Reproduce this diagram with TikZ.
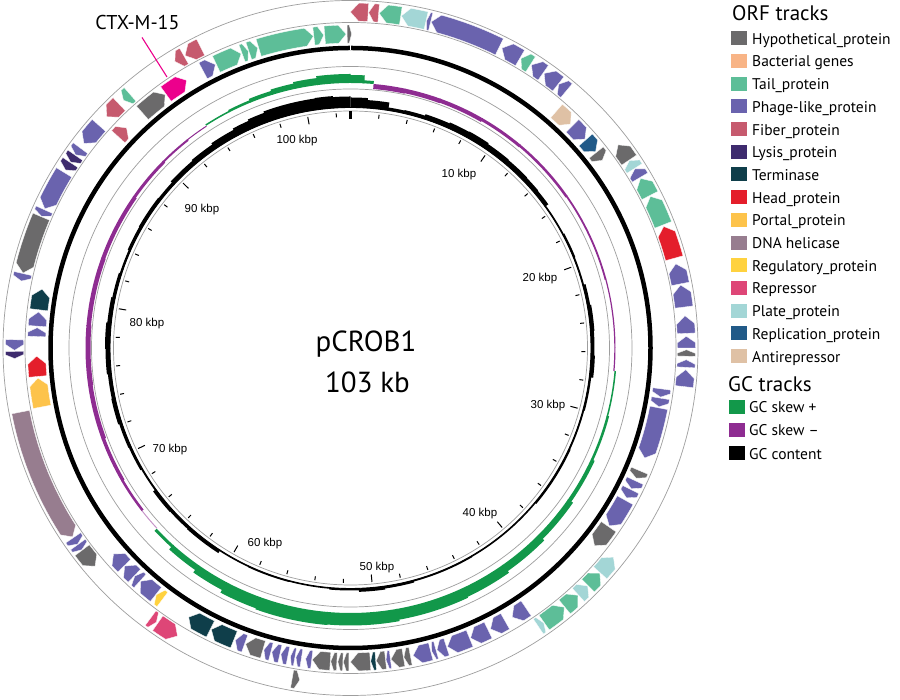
\documentclass[tikz,border=0pt]{standalone}
\usepackage{fontspec}
\setmainfont{PT Sans}
\newfontfamily\tickfont{Liberation Sans}
\definecolor{hypo}{HTML}{6B6A6B}
\definecolor{bact}{HTML}{F8B486}
\definecolor{tail}{HTML}{5DBE98}
\definecolor{phage}{HTML}{6A63AE}
\definecolor{fiber}{HTML}{C65A6E}
\definecolor{lysis}{HTML}{3E2B6E}
\definecolor{term}{HTML}{0F3E4A}
\definecolor{head}{HTML}{E41E2B}
\definecolor{portal}{HTML}{FDC34B}
\definecolor{helic}{HTML}{977D8F}
\definecolor{regul}{HTML}{FFD23F}
\definecolor{repr}{HTML}{DE4677}
\definecolor{plate}{HTML}{A3D6D6}
\definecolor{repl}{HTML}{215A88}
\definecolor{anti}{HTML}{DFC1A5}
\definecolor{skp}{HTML}{12984A}
\definecolor{skm}{HTML}{8E2C91}
\definecolor{ctx}{HTML}{EC008C}
% ring A: counter-clockwise arrows, r 327-345
\newcommand{\geneA}[3]{%
  \pgfmathsetmacro{\gnA}{90-#1}%
  \pgfmathsetmacro{\gnB}{90-#2}%
  \pgfmathsetmacro{\gnT}{90-#1-min(1.4,0.55*(#2-#1))}%
  \fill[genebox, fill=#3] (\gnB:327pt) arc[start angle=\gnB, end angle=\gnT, radius=327pt] -- (\gnA:336pt) -- (\gnT:345pt) arc[start angle=\gnT, end angle=\gnB, radius=345pt] -- cycle;}
% ring B: clockwise arrows, r 305-323
\newcommand{\geneB}[3]{%
  \pgfmathsetmacro{\gnA}{90-#1}%
  \pgfmathsetmacro{\gnB}{90-#2}%
  \pgfmathsetmacro{\gnT}{90-#2+min(1.4,0.55*(#2-#1))}%
  \fill[genebox, fill=#3] (\gnA:305pt) arc[start angle=\gnA, end angle=\gnT, radius=305pt] -- (\gnB:314pt) -- (\gnT:323pt) arc[start angle=\gnT, end angle=\gnA, radius=323pt] -- cycle;}
% bar between radius #3 and #4 from angle #1 to #2
\newcommand{\bandseg}[5]{%
  \pgfmathsetmacro{\gnA}{90-#1}%
  \pgfmathsetmacro{\gnB}{90-#2}%
  \fill[#5] (\gnA:#3pt) arc[start angle=\gnA, end angle=\gnB, radius=#3pt] -- (\gnB:#4pt) arc[start angle=\gnB, end angle=\gnA, radius=#4pt] -- cycle;}
\begin{document}
\begin{tikzpicture}[x=1pt,y=1pt,
  ringline/.style={draw=black!38, line width=0.7pt},
  genebox/.style={draw=white, line width=0.3pt},
  ticklbl/.style={font=\tickfont\fontsize{11.5}{12}\selectfont, inner sep=0pt},
  legtxt/.style={anchor=base west, inner sep=0pt, font=\fontsize{15.5}{16}\selectfont},
  legsq/.style={minimum width=16pt, minimum height=14pt, inner sep=0pt, anchor=west},
  legtitle/.style={anchor=base west, inner sep=0pt, font=\fontsize{21}{22}\selectfont},
  ctxline/.style={draw=ctx, line width=1.1pt}
]
\useasboundingbox (0,0) rectangle (900,700);
\fill[white] (0,0) rectangle (900,700);

\begin{scope}[shift={(350.5,352)}]
  % ring outlines
  \draw[ringline] (0,0) circle[radius=347.5pt];
  \draw[ringline] (0,0) circle[radius=325.5pt];
  \draw[ringline] (0,0) circle[radius=281.5pt];
  \draw[ringline] (0,0) circle[radius=259pt];
  \draw[ringline] (0,0) circle[radius=237pt];
  % backbone
  \draw[line width=4.5pt] (0,0) circle[radius=300pt];
  \draw[white, line width=0.8pt] (90:297.5pt) -- (90:302.5pt);

  % ring A genes
  \foreach \a/\b/\c in {0/3/fiber, 3.1/4.8/fiber, 4.9/8.6/tail, 8.7/13/plate, 13.1/13.8/phage, 13.9/26.3/phage, 26.8/30.3/phage, 30.5/32.4/tail, 32.6/35/phage, 35.2/38.2/phage, 38.3/40/phage, 52.8/56/hypo, 56.1/57.7/plate, 57.8/59.5/phage, 59.7/63/tail, 63.2/68.5/tail, 68.8/74.5/head, 75.5/79/phage, 79.2/83/phage, 84.5/87.5/phage, 88/90/phage, 90.3/91.4/hypo, 92/93.3/phage, 93.7/96.6/phage, 128.5/132/plate, 132.1/135/tail, 135.1/137.3/plate, 137.4/140.4/tail, 140.5/144.8/tail, 144.9/146/plate, 188.7/190/hypo, 211/215/repr, 215.3/216.5/repr, 229.5/233/hypo, 233.1/234.2/phage, 234.3/235.6/phage, 235.8/259/helic, 268.2/269.4/lysis, 269.6/271.4/phage, 281.5/282.8/phage, 282.9/293/hypo, 293.1/294.3/phage, 294.5/301.5/phage, 302/303.5/lysis, 303.6/305/lysis, 305.1/306.5/phage, 307.5/311.5/phage, 313.5/316.5/fiber, 317.5/319/tail, 328.5/330.3/fiber, 330.5/333.5/fiber}
    {\geneA{\a}{\b}{\c}}

  % ring B genes
  \foreach \a/\b/\c in {41/44.5/anti, 45/48.3/phage, 48.5/51.3/repl, 51.5/53.3/hypo, 97.5/99/phage, 99.2/100.8/phage, 101/110.5/phage, 113/114.5/hypo, 115/116.6/phage, 116.8/118.5/phage, 119/124.5/phage, 124.7/129/hypo, 146/149/phage, 150.5/153.5/phage, 154/157.5/phage, 157.7/162/phage, 162.2/164/phage, 164.2/165/phage, 165.2/168.5/phage, 169/170.2/hypo, 170.3/172.6/hypo, 172.7/173.5/phage, 173.6/175.3/hypo, 175.4/176.3/term, 176.4/180/hypo, 180.3/181.3/hypo, 181.4/182.3/hypo, 182.5/183.6/hypo, 183.7/187/hypo, 187.1/188.2/phage, 189/190/phage, 190.2/191/phage, 191.5/192.8/phage, 193/194.5/phage, 194.7/196/phage, 196.2/199.5/hypo, 199.7/201.5/phage, 201.8/206.3/term, 206.5/211/term, 216.8/218.2/regul, 218.3/222/phage, 222.1/223.4/phage, 223.5/226/phage, 226.1/229/phage, 259.2/264.5/portal, 264.8/268.5/head, 272.1/273.7/phage, 274/276.6/phage, 277/280.8/term, 312.3/314.5/fiber, 318.5/323.8/hypo, 324/328.5/ctx, 332/334.5/phage, 334.7/339.6/tail, 339.8/341/tail, 341.1/342.8/tail, 343/353.2/tail, 353.3/355.1/tail, 355.3/359.2/tail, 359.4/360.2/hypo}
    {\geneB{\a}{\b}{\c}}

  % GC skew (baseline 265)
  \foreach \a/\b/\h in {-33/-27/1.5, -27.2/-22/2.5, -22.2/-17/4, -17.2/-12/5.5, -12.2/-7/7, -7.2/0/9, -0.2/3/8, 2.8/5/3, 95/105/1.5, 104.8/115/2.5, 114.8/125/4, 124.8/135/6, 134.8/145/8, 144.8/155/10, 154.8/170/11, 169.8/185/12.5, 184.8/200/13, 199.8/208/12, 207.8/215/9, 214.8/222/6, 221.8/227/3}
    {\pgfmathsetmacro{\rr}{265+\h}\bandseg{\a}{\b}{265}{\rr}{skp}}
  \foreach \a/\b/\h in {5/12/5, 11.8/20/4.5, 19.8/30/4, 29.8/40/3, 39.8/55/2.5, 54.8/75/1.8, 74.8/95/1.2, 232/240/2.5, 239.8/250/3.5, 249.8/262/4.5, 261.8/275/5, 274.8/290/4.5, 289.8/305/4, 304.8/315/3, 314.8/322/2, 321.8/327/1}
    {\pgfmathsetmacro{\rr}{265-\h}\bandseg{\a}{\b}{\rr}{265}{skm}}
  \bandseg{227}{232}{264}{265}{skm!50}

  % GC content (baseline 240.5)
  \draw[line width=0.9pt] (0,0) circle[radius=240.5pt];
  \foreach \a/\b/\h in {0/4/10, 3.8/9/8, 8.8/13/3, 12.8/18/3.5, 17.8/24/5, 23.8/29/6, 28.8/34/6.5, 33.8/40/5.5, 39.8/46/5, 45.8/50/4.5, 49.8/54/4, 53.8/62/1.3, 61.8/68/2, 67.8/75/1.5, 74.8/80/3, 79.8/86/4, 85.8/92/3.5, 91.8/97/4, 96.8/105/2, 104.8/115/1.5, 114.8/130/2, 129.8/150/1.2, 149.8/165/1.5, 164.8/172/2.5, 171.8/178/3.5, 177.8/185/2, 184.8/195/1.2, 194.8/205/1.5, 204.8/213/1.2, 212.8/222/3.5, 221.8/228/3, 227.8/234/3.5, 233.8/240/1.5, 239.8/246/2.5, 245.8/252/3, 251.8/258/4, 257.8/264/3.5, 263.8/270/4.5, 269.8/276/5, 275.8/282/4, 281.8/288/3, 287.8/294/2, 293.8/300/3, 299.8/308/3.5, 307.8/313/3, 312.8/320/4.5, 319.8/326/5.5, 325.8/332/7, 331.8/336/8.5, 335.8/340/10, 339.8/352/11.5, 351.8/356/12, 355.8/360/11}
    {\pgfmathsetmacro{\rr}{240.5+\h}\bandseg{\a}{\b}{240.5}{\rr}{black}}

  % ticks every 2 kbp
  \foreach \k in {1,...,51}{
    \pgfmathsetmacro{\ang}{90-\k*6.990291}
    \pgfmathsetmacro{\rr}{ifthenelse(mod(\k,5)==0,227.5,231)}
    \draw[line width=1pt] (\ang:235pt) -- (\ang:\rr pt);
  }
  \draw[line width=2.6pt] (90:236.5pt) -- (90:228.5pt);
\end{scope}

% tick labels
\node[ticklbl] (k10) at (459,525) {10 kbp};
\node[ticklbl] (k20) at (540,421) {20 kbp};
\node[ticklbl] (k30) at (548,294) {30 kbp};
\node[ticklbl] (k40) at (480,186) {40 kbp};
\node[ticklbl] (k50) at (377,132) {50 kbp};
\node[ticklbl] (k60) at (265,156) {60 kbp};
\node[ticklbl] (k70) at (170,250) {70 kbp};
\node[ticklbl] (k80) at (147,376) {80 kbp};
\node[ticklbl] (k90) at (202,490) {90 kbp};
\node[ticklbl] (k100) at (297,559) {100 kbp};

% centre title
\node[anchor=base, inner sep=0pt, font=\fontsize{29}{30}\selectfont] (name) at (366,348.3) {pCROB1};
\node[anchor=base, inner sep=0pt, font=\fontsize{29}{30}\selectfont] (size) at (367.5,307.3) {103 kb};

% CTX-M-15 label
\node[anchor=base, inner sep=0pt, font=\fontsize{20}{21}\selectfont] (ctxlbl) at (137.5,670) {CTX-M-15};
\coordinate (ctxgene) at (167,623);
\draw[ctxline] ([shift={(4.5,-7)}]ctxlbl.south) -- (ctxgene);

% legend
\node[legtitle] (orft) at (732,679) {ORF tracks};
\foreach \i/\c/\t in {0/hypo/Hypothetical\_protein, 1/bact/Bacterial genes, 2/tail/Tail\_protein, 3/phage/Phage-like\_protein, 4/fiber/Fiber\_protein, 5/lysis/Lysis\_protein, 6/term/Terminase, 7/head/Head\_protein, 8/portal/Portal\_protein, 9/helic/DNA helicase, 10/regul/Regulatory\_protein, 11/repr/Repressor, 12/plate/Plate\_protein, 13/repl/Replication\_protein, 14/anti/Antirepressor}{
  \pgfmathsetmacro{\yy}{661.7-22.7*\i}
  \pgfmathsetmacro{\yb}{\yy-6}
  \node[legsq, fill=\c] (lsq\i) at (731,\yy) {};
  \node[legtxt] (ltx\i) at (752,\yb) {\t};
}
\node[legtitle] (gct) at (728,308) {GC tracks};
\foreach \i/\c/\t/\yy in {0/skp/GC skew +/293.3, 1/skm/GC skew –/270, 2/black/GC content/246.7}{
  \pgfmathsetmacro{\yb}{\yy-6}
  \node[legsq, fill=\c] (gsq\i) at (729,\yy) {};
  \node[legtxt] (gtx\i) at (749,\yb) {\t};
}
\end{tikzpicture}
\end{document}
